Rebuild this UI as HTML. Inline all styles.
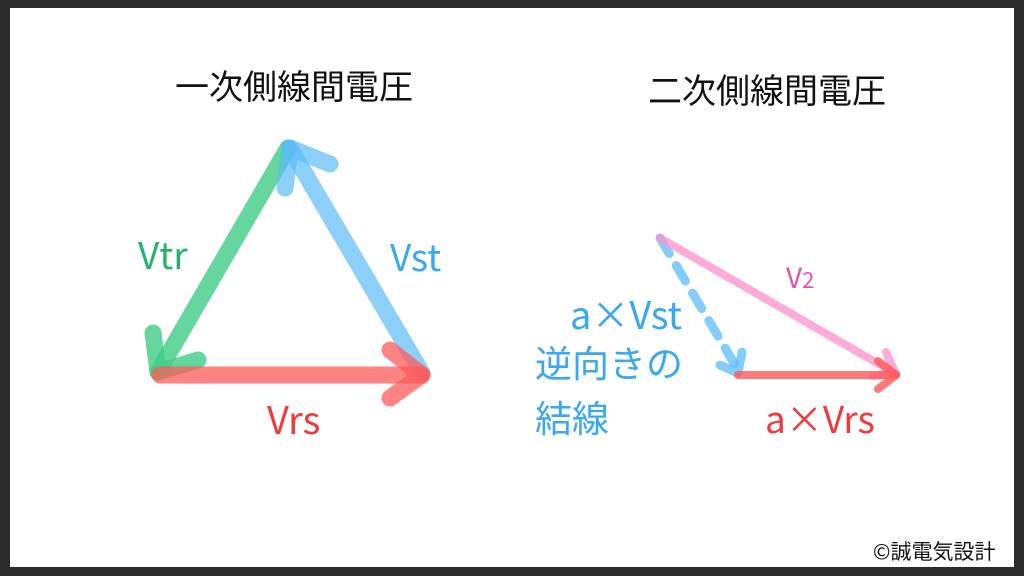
<!DOCTYPE html>
<html><head><meta charset="utf-8"><style>
html,body{margin:0;padding:0;width:1024px;height:576px;overflow:hidden;background:#2a2a2a}
#w{position:absolute;left:10px;top:8px;width:1004px;height:559px;background:#fff}
.t{position:absolute;font-family:"Noto Sans CJK JP","Liberation Sans",sans-serif;white-space:nowrap;line-height:1}
</style></head><body>
<div id="w"></div>
<svg width="1024" height="576" style="position:absolute;left:0;top:0">
<g fill="none" stroke-linecap="round" stroke-linejoin="round">
<g stroke="#3fcc86" stroke-opacity="0.8" stroke-width="17">
<line x1="288" y1="148" x2="158" y2="372"/>
<polyline points="153,333 158,372 198,360"/>
</g>
<g stroke="#5bbcf8" stroke-opacity="0.7" stroke-width="17">
<line x1="422" y1="373" x2="290" y2="148"/>
<polyline points="285,188 290,148 330,164"/>
</g>
<g stroke="#ff5a5a" stroke-opacity="0.75" stroke-width="17">
<line x1="160" y1="375" x2="422" y2="375"/>
<polyline points="390,350 422,375 390,398"/>
</g>
<g stroke="#5bbcf8" stroke-opacity="0.75" stroke-width="9">
<line x1="660" y1="238" x2="738" y2="370" stroke-dasharray="18,14"/>
<polyline points="720,365 738,373 742,352"/>
</g>
<g stroke="#ff8fcc" stroke-opacity="0.75" stroke-width="8">
<line x1="660" y1="238" x2="896" y2="374"/>
<polyline points="886,352 896,374 872,376"/>
</g>
<g stroke="#ff5a5a" stroke-opacity="0.8" stroke-width="8">
<line x1="738" y1="375" x2="896" y2="375"/>
<polyline points="878,361 896,375 878,389"/>
</g>
</g>
</svg>
<div class="t" style="left:175px;top:68px;font-size:34px;color:#111">一次側線間電圧</div>
<div class="t" style="left:648px;top:72px;font-size:34px;color:#111">二次側線間電圧</div>
<div class="t" style="left:138px;top:235px;font-size:37px;color:#22b46a">Vtr</div>
<div class="t" style="left:390px;top:237px;font-size:37px;color:#3aa8ee">Vst</div>
<div class="t" style="left:267px;top:399px;font-size:38px;color:#ee3b3b">Vrs</div>
<div class="t" style="left:786px;top:263px;font-size:28px;color:#e84fa8">V<span style="font-size:22px">2</span></div>
<div class="t" style="left:570px;top:294px;font-size:38px;color:#3aa8ee">a×Vst</div>
<div class="t" style="left:535px;top:343px;font-size:37px;color:#3aa8ee">逆向きの</div>
<div class="t" style="left:535px;top:398px;font-size:37px;color:#3aa8ee">結線</div>
<div class="t" style="left:765px;top:399px;font-size:37px;color:#ee3b3b">a×Vrs</div>
<div class="t" style="left:873px;top:541px;font-size:21px;color:#111">©誠電気設計</div>
</body></html>
